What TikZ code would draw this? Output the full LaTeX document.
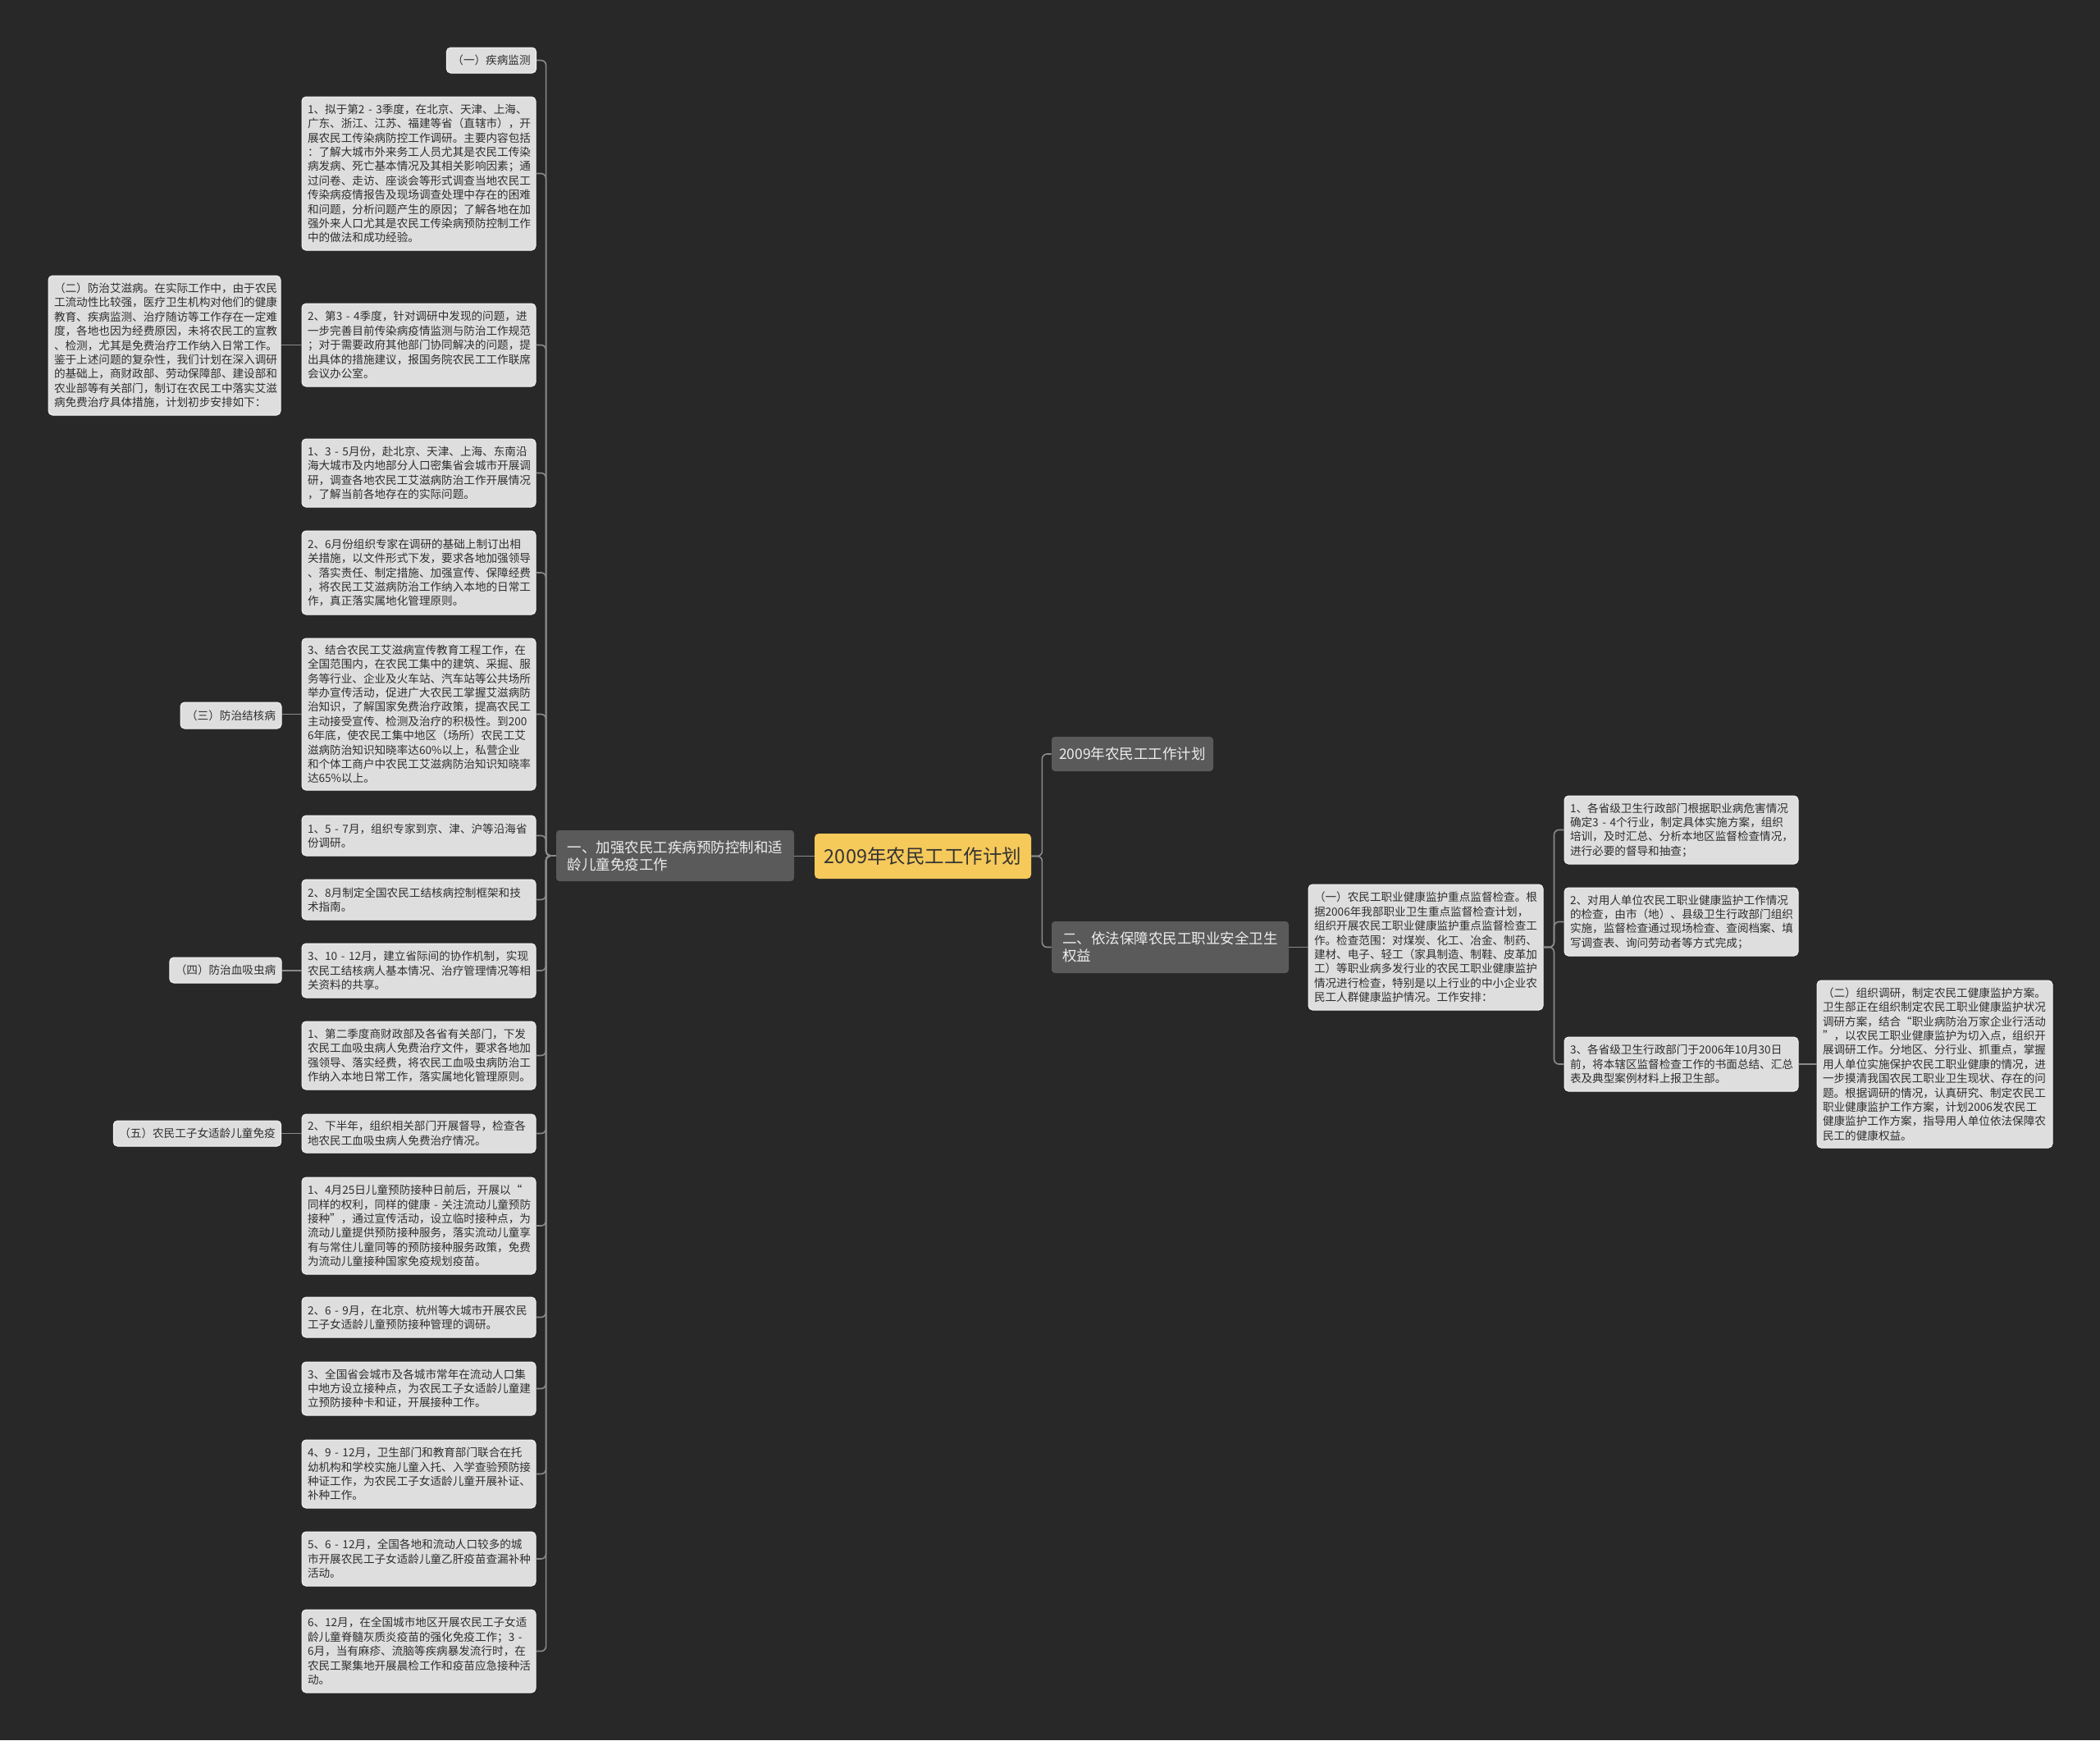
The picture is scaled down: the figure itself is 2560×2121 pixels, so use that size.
\documentclass[tikz,border=0pt]{standalone}
\usepackage{fontspec}
\setmainfont{Noto Sans CJK SC}
\definecolor{bgc}{HTML}{282828}
\definecolor{leaffill}{HTML}{DEDEDE}
\definecolor{leafline}{HTML}{F2F2F2}
\definecolor{leaftext}{HTML}{2E2E2E}
\definecolor{brfill}{HTML}{5A5A5A}
\definecolor{brtext}{HTML}{EDEDED}
\definecolor{rootfill}{HTML}{F5C95A}
\definecolor{roottext}{HTML}{333333}
\definecolor{linec}{HTML}{8A8A8A}
\newcommand\leaffont{\fontsize{6.8pt}{8.7pt}\selectfont}
\newcommand\brfont{\fontsize{8.75pt}{10.5pt}\selectfont}
\newcommand\rootfont{\fontsize{11.75pt}{13pt}\selectfont}
% name, x1, y1, x2, y2, style, text  (box with fixed text width)
\newcommand\nbx[7]{%
  \pgfmathsetmacro\nbxcx{(#2+#4)/2}%
  \pgfmathsetmacro\nbxcy{(#3+#5)/2}%
  \pgfmathsetmacro\nbxw{(#4-#2)*0.5}%
  \pgfmathsetmacro\nbxh{(#5-#3)*0.5}%
  \pgfmathsetmacro\nbxtw{\nbxw-7}%
  \node[#6, minimum width=\nbxw pt, minimum height=\nbxh pt, text width=\nbxtw pt] (#1) at (\nbxcx,\nbxcy) {#7};%
}
% name, x1, y1, x2, y2, style, text  (box, natural text, centred)
\newcommand\nbn[7]{%
  \pgfmathsetmacro\nbxcx{(#2+#4)/2}%
  \pgfmathsetmacro\nbxcy{(#3+#5)/2}%
  \pgfmathsetmacro\nbxw{(#4-#2)*0.5}%
  \pgfmathsetmacro\nbxh{(#5-#3)*0.5}%
  \node[#6, minimum width=\nbxw pt, minimum height=\nbxh pt] (#1) at (\nbxcx,\nbxcy) {#7};%
}
\begin{document}
\begin{tikzpicture}[x=0.5pt,y=-0.5pt,
  leafbox/.style={draw=leafline, line width=0.5pt, fill=leaffill, rounded corners=2.5pt,
    inner xsep=3.5pt, inner ysep=0pt, align=left, text=leaftext, font=\leaffont},
  headbox/.style={leafbox, align=center},
  brbox/.style={fill=brfill, rounded corners=2pt, inner xsep=3pt, inner ysep=0pt,
    align=left, text=brtext, font=\brfont},
  rootbox/.style={fill=rootfill, rounded corners=2.5pt, inner sep=0pt,
    text=roottext, font=\rootfont},
  conn/.style={draw=linec, line width=0.8pt, rounded corners=3pt}]
\fill[bgc] (0,0) rectangle (2560,2121);
\useasboundingbox (0,0) rectangle (2560,2121);

% ---------- centre ----------
\nbn{root}{993}{1016}{1257}{1071}{rootbox}{2009年农民工工作计划}
\nbn{b1}{678}{1012}{968}{1074}{brbox}{一、加强农民工疾病预防控制和适\\龄儿童免疫工作}
\nbn{b2}{1282}{898}{1479}{940}{brbox}{2009年农民工工作计划}
\nbn{b3}{1282}{1123}{1571}{1186}{brbox}{二、依法保障农民工职业安全卫生\\权益}

% ---------- left leaves ----------
\nbn{L0}{545}{58}{653}{89}{headbox}{（一）疾病监测}
\nbx{L1}{368}{118}{653}{305}{leafbox}{\mbox{1、拟于第2 - 3季度，在北京、天津、上海、}\\广东、浙江、江苏、福建等省（直辖市），开\\展农民工传染病防控工作调研。主要内容包括\\：了解大城市外来务工人员尤其是农民工传染\\病发病、死亡基本情况及其相关影响因素；通\\过问卷、走访、座谈会等形式调查当地农民工\\传染病疫情报告及现场调查处理中存在的困难\\和问题，分析问题产生的原因；了解各地在加\\强外来人口尤其是农民工传染病预防控制工作\\中的做法和成功经验。}
\nbx{L2}{368}{370}{653}{471}{leafbox}{\mbox{2、第3 - 4季度，针对调研中发现的问题，进}\\一步完善目前传染病疫情监测与防治工作规范\\；对于需要政府其他部门协同解决的问题，提\\出具体的措施建议，报国务院农民工工作联席\\会议办公室。}
\nbx{L3}{368}{535}{653}{618}{leafbox}{\mbox{1、3 - 5月份，赴北京、天津、上海、东南沿}\\海大城市及内地部分人口密集省会城市开展调\\研，调查各地农民工艾滋病防治工作开展情况\\，了解当前各地存在的实际问题。}
\nbx{L4}{368}{647}{653}{749}{leafbox}{2、6月份组织专家在调研的基础上制订出相\\关措施，以文件形式下发，要求各地加强领导\\、落实责任、制定措施、加强宣传、保障经费\\，将农民工艾滋病防治工作纳入本地的日常工\\作，真正落实属地化管理原则。}
\nbx{L5}{368}{778}{653}{963}{leafbox}{3、结合农民工艾滋病宣传教育工程工作，在\\全国范围内，在农民工集中的建筑、采掘、服\\务等行业、企业及火车站、汽车站等公共场所\\举办宣传活动，促进广大农民工掌握艾滋病防\\治知识，了解国家免费治疗政策，提高农民工\\主动接受宣传、检测及治疗的积极性。到200\\6年底，使农民工集中地区（场所）农民工艾\\滋病防治知识知晓率达60\%以上，私营企业\\和个体工商户中农民工艾滋病防治知识知晓率\\达65\%以上。}
\nbx{L6}{368}{994}{653}{1043}{leafbox}{\mbox{1、5 - 7月，组织专家到京、津、沪等沿海省}\\份调研。}
\nbx{L7}{368}{1072}{653}{1121}{leafbox}{2、8月制定全国农民工结核病控制框架和技\\术指南。}
\nbx{L8}{368}{1150}{653}{1216}{leafbox}{\mbox{3、10 - 12月，建立省际间的协作机制，实现}\\农民工结核病人基本情况、治疗管理情况等相\\关资料的共享。}
\nbx{L9}{368}{1245}{653}{1328}{leafbox}{1、第二季度商财政部及各省有关部门，下发\\农民工血吸虫病人免费治疗文件，要求各地加\\强领导、落实经费，将农民工血吸虫病防治工\\作纳入本地日常工作，落实属地化管理原则。}
\nbx{L10}{368}{1358}{653}{1405}{leafbox}{2、下半年，组织相关部门开展督导，检查各\\地农民工血吸虫病人免费治疗情况。}
\nbx{L11}{368}{1435}{653}{1553}{leafbox}{1、4月25日儿童预防接种日前后，开展以“\\\mbox{同样的权利，同样的健康 - 关注流动儿童预防}\\接种”，通过宣传活动，设立临时接种点，为\\流动儿童提供预防接种服务，落实流动儿童享\\有与常住儿童同等的预防接种服务政策，免费\\为流动儿童接种国家免疫规划疫苗。}
\nbx{L12}{368}{1581}{653}{1630}{leafbox}{\mbox{2、6 - 9月，在北京、杭州等大城市开展农民}\\工子女适龄儿童预防接种管理的调研。}
\nbx{L13}{368}{1660}{653}{1725}{leafbox}{3、全国省会城市及各城市常年在流动人口集\\中地方设立接种点，为农民工子女适龄儿童建\\立预防接种卡和证，开展接种工作。}
\nbx{L14}{368}{1755}{653}{1838}{leafbox}{\mbox{4、9 - 12月，卫生部门和教育部门联合在托}\\幼机构和学校实施儿童入托、入学查验预防接\\种证工作，为农民工子女适龄儿童开展补证、\\补种工作。}
\nbx{L15}{368}{1867}{653}{1933}{leafbox}{\mbox{5、6 - 12月，全国各地和流动人口较多的城}\\市开展农民工子女适龄儿童乙肝疫苗查漏补种\\活动。}
\nbx{L16}{368}{1962}{653}{2063}{leafbox}{6、12月，在全国城市地区开展农民工子女适\\\mbox{龄儿童脊髓灰质炎疫苗的强化免疫工作；3 -}\\6月，当有麻疹、流脑等疾病暴发流行时，在\\农民工聚集地开展晨检工作和疫苗应急接种活\\动。}

% ---------- left headers ----------
\nbx{H2}{59}{336}{342}{506}{leafbox}{（二）防治艾滋病。在实际工作中，由于农民\\工流动性比较强，医疗卫生机构对他们的健康\\教育、疾病监测、治疗随访等工作存在一定难\\度，各地也因为经费原因，未将农民工的宣教\\、检测，尤其是免费治疗工作纳入日常工作。\\鉴于上述问题的复杂性，我们计划在深入调研\\的基础上，商财政部、劳动保障部、建设部和\\农业部等有关部门，制订在农民工中落实艾滋\\病免费治疗具体措施，计划初步安排如下：}
\nbn{H3}{220}{856}{343}{888}{headbox}{（三）防治结核病}
\nbn{H4}{207}{1167}{343}{1198}{headbox}{（四）防治血吸虫病}
\nbn{H5}{139}{1366}{342}{1397}{headbox}{（五）农民工子女适龄儿童免疫}

% ---------- right side ----------
\nbx{R0}{1595}{1078}{1881}{1231}{leafbox}{（一）农民工职业健康监护重点监督检查。根\\据2006年我部职业卫生重点监督检查计划，\\组织开展农民工职业健康监护重点监督检查工\\作。检查范围：对煤炭、化工、冶金、制药、\\建材、电子、轻工（家具制造、制鞋、皮革加\\工）等职业病多发行业的农民工职业健康监护\\情况进行检查，特别是以上行业的中小企业农\\民工人群健康监护情况。工作安排：}
\nbx{R1}{1907}{970}{2192}{1053}{leafbox}{1、各省级卫生行政部门根据职业病危害情况\\\mbox{确定3 - 4个行业，制定具体实施方案，组织}\\培训，及时汇总、分析本地区监督检查情况，\\进行必要的督导和抽查；}
\nbx{R2}{1907}{1082}{2192}{1165}{leafbox}{2、对用人单位农民工职业健康监护工作情况\\的检查，由市（地）、县级卫生行政部门组织\\实施，监督检查通过现场检查、查阅档案、填\\写调查表、询问劳动者等方式完成；}
\nbx{R3}{1907}{1264}{2192}{1330}{leafbox}{3、各省级卫生行政部门于2006年10月30日\\前，将本辖区监督检查工作的书面总结、汇总\\表及典型案例材料上报卫生部。}
\nbx{R4}{2215}{1195}{2502}{1399}{leafbox}{（二）组织调研，制定农民工健康监护方案。\\卫生部正在组织制定农民工职业健康监护状况\\调研方案，结合“职业病防治万家企业行活动\\”，以农民工职业健康监护为切入点，组织开\\展调研工作。分地区、分行业、抓重点，掌握\\用人单位实施保护农民工职业健康的情况，进\\一步摸清我国农民工职业卫生现状、存在的问\\题。根据调研的情况，认真研究、制定农民工\\职业健康监护工作方案，计划2006发农民工\\健康监护工作方案，指导用人单位依法保障农\\民工的健康权益。}

% ---------- connectors ----------
\draw[conn] (root.west) -- (root.west -| b1.east);
\foreach \c in {b2,b3} \draw[conn] (root.east) -- ++(13,0) |- (\c.west);
\foreach \c in {L0,L1,L2,L3,L4,L5,L6,L7,L8,L9,L10,L11,L12,L13,L14,L15,L16}
  \draw[conn] (b1.west) -- ++(-12,0) |- (\c.east);
\draw[conn] (L2.west) -- (L2.west -| H2.east);
\draw[conn] (L5.west) -- (L5.west -| H3.east);
\draw[conn] (L8.west) -- (L8.west -| H4.east);
\draw[conn] (L10.west) -- (L10.west -| H5.east);
\draw[conn] (b3.east) -- (b3.east -| R0.west);
\foreach \c in {R1,R2,R3} \draw[conn] (R0.east) -- ++(13,0) |- (\c.west);
\draw[conn] (R3.east) -- (R3.east -| R4.west);
\end{tikzpicture}
\end{document}
